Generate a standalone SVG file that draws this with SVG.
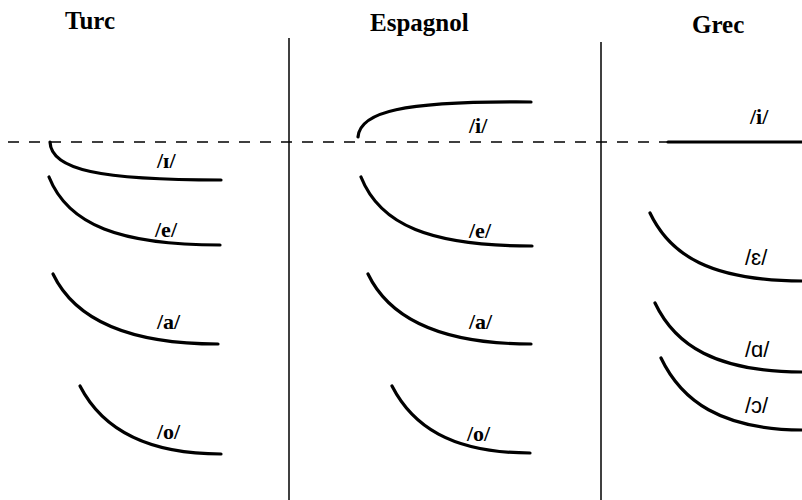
<svg xmlns="http://www.w3.org/2000/svg" width="802" height="500" viewBox="0 0 802 500">
<style>
.title{font-family:"Liberation Serif","Times New Roman",serif;font-weight:bold;font-size:25px;fill:#000}
.lab{font-family:"Liberation Serif","Times New Roman","DejaVu Serif",serif;font-weight:bold;font-size:22px;fill:#000}
.labs{font-family:"Liberation Sans",Arial,sans-serif;font-size:22px;fill:#000}
.curve{fill:none;stroke:#000;stroke-width:3.2;stroke-linecap:round}
.div{stroke:#000;stroke-width:1.5}
.dash{stroke:#000;stroke-width:1.5;stroke-dasharray:11 10}
</style>
<rect width="802" height="500" fill="#fff"/>
<g id="axes">
<line class="div" x1="289" y1="38" x2="289" y2="500"/>
<line class="div" x1="601" y1="42" x2="601" y2="500"/>
<line class="dash" x1="8" y1="142" x2="668" y2="142"/>
</g>
<g id="titles">
<text class="title" x="65" y="29">Turc</text>
<text class="title" x="370" y="31">Espagnol</text>
<text class="title" x="692" y="33">Grec</text>
</g>
<g id="turc">
<g id="turc-I"><path class="curve" d="M50,142 C51,170 100,180 221,180"/><text class="lab" x="157" y="168">/ɪ/</text></g>
<g id="turc-e"><path class="curve" d="M49,177 C68,225 120,245 220,245"/><text class="lab" x="155" y="237">/e/</text></g>
<g id="turc-a"><path class="curve" d="M53,274 C75,320 130,344 218,344"/><text class="lab" x="157" y="329">/a/</text></g>
<g id="turc-o"><path class="curve" d="M80,386 C100,425 140,454 221,454"/><text class="lab" x="157" y="439">/o/</text></g>
</g>
<g id="espagnol">
<g id="esp-i"><path class="curve" d="M358,137 C360,112 400,101 531,102"/><text class="lab" x="469" y="133">/i/</text></g>
<g id="esp-e"><path class="curve" d="M361,177 C380,225 430,246 532,246"/><text class="lab" x="469" y="238">/e/</text></g>
<g id="esp-a"><path class="curve" d="M368,274 C390,320 445,344 531,344"/><text class="lab" x="469" y="329">/a/</text></g>
<g id="esp-o"><path class="curve" d="M392,386 C412,425 450,453 530,453"/><text class="lab" x="467" y="441">/o/</text></g>
</g>
<g id="grec">
<g id="grec-i"><line class="curve" x1="668" y1="142" x2="804" y2="142"/><text class="lab" x="750" y="124">/i/</text></g>
<g id="grec-E"><path class="curve" d="M650,213 C670,255 710,281 804,281"/><text class="labs" x="745" y="265">/ɛ/</text></g>
<g id="grec-A"><path class="curve" d="M655,303 C675,345 715,372 804,372"/><text class="labs" x="745" y="357">/ɑ/</text></g>
<g id="grec-O"><path class="curve" d="M661,358 C681,400 720,430 804,430"/><text class="labs" x="745" y="413">/ɔ/</text></g>
</g>
</svg>
